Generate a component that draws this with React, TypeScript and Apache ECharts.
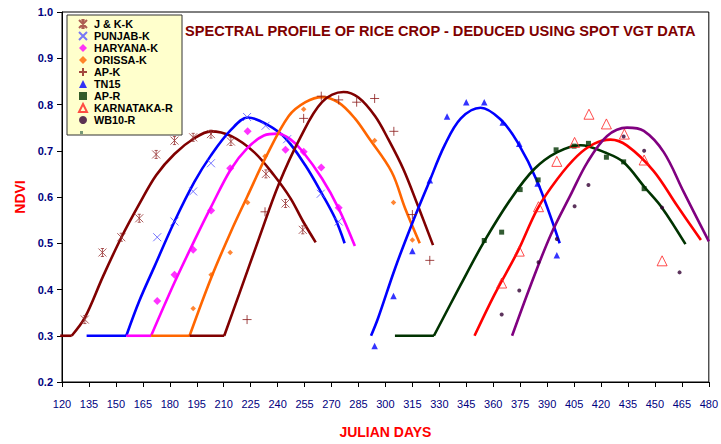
import React, { useEffect, useRef } from "react";
import * as echarts from "echarts";

const TITLE = "SPECTRAL PROFILE OF RICE CROP - DEDUCED USING SPOT VGT DATA";
const X_NAME = "JULIAN DAYS";
const Y_NAME = "NDVI";
const X_MIN = 120;
const X_MAX = 480;
const X_STEP = 15;
const Y_MIN = 0.2;
const Y_MAX = 1.0;
const Y_STEP = 0.1;

const names = ["J & K-K", "PUNJAB-K", "HARYANA-K", "ORISSA-K", "AP-K", "TN15", "AP-R", "KARNATAKA-R", "WB10-R"];

// observed points [julian day, NDVI]
const jkPts = [[132.7, 0.335], [142.5, 0.48], [153, 0.513], [163, 0.554], [172.4, 0.692], [182.6, 0.722], [193, 0.729], [202.9, 0.736], [214, 0.72], [233.5, 0.65], [244.4, 0.586], [254, 0.529]];
const punjabPts = [[173, 0.513], [182.6, 0.547], [193, 0.612], [202.9, 0.673], [223, 0.773], [233.3, 0.754], [245.3, 0.725], [264, 0.607], [274, 0.547]];
const haryanaPts = [[173, 0.375], [182.6, 0.432], [193, 0.486], [203, 0.571], [213.6, 0.662], [223.3, 0.742], [244.4, 0.702], [254.5, 0.698], [264.3, 0.664], [274, 0.577]];
const orissaPts = [[193, 0.359], [203, 0.432], [213.6, 0.48], [223.3, 0.588], [233, 0.688], [254.5, 0.79], [294, 0.722], [304.5, 0.588], [315, 0.507]];
const apkPts = [[223, 0.335], [233, 0.568], [254.5, 0.77], [264.3, 0.818], [274, 0.81], [284, 0.805], [294, 0.813], [304.7, 0.742], [315, 0.562], [324.7, 0.463]];
const tn15Pts = [[294, 0.278], [304.5, 0.386], [315, 0.483], [324.7, 0.636], [334.3, 0.774], [345, 0.805], [355, 0.805], [365.3, 0.761], [374.5, 0.715], [384.7, 0.629], [395.4, 0.474]];
const aprPts = [[355, 0.506], [364.7, 0.524], [375, 0.616], [385, 0.637], [395, 0.702], [405, 0.71], [413, 0.716], [423, 0.686], [432.6, 0.676], [444, 0.618]];
const karnatakaPts = [[364.7, 0.414], [374.5, 0.483], [385.2, 0.579], [395.4, 0.677], [405.3, 0.718], [413.3, 0.779], [423, 0.758], [433, 0.736], [444, 0.68], [454, 0.462]];
const wb10Pts = [[364.7, 0.346], [374.5, 0.398], [385.2, 0.459], [395.4, 0.509], [405.3, 0.58], [413, 0.626], [432.6, 0.731], [444, 0.7], [454, 0.577], [463.7, 0.437]];

// fitted profiles: flat base + curve
const jkFlat = [[119, 0.3], [125.4, 0.3]];
const jkFit = [[125.4, 0.3], [132.7, 0.339], [142.9, 0.429], [153.1, 0.513], [163.2, 0.586], [172.4, 0.647], [182.6, 0.693], [193.6, 0.727], [202.9, 0.742], [214, 0.732], [226.9, 0.697], [238, 0.647], [247.2, 0.597], [254.2, 0.547], [261.2, 0.502]];
const punjabFlat = [[133.7, 0.3], [155.8, 0.3]];
const punjabFit = [[155.8, 0.3], [163, 0.375], [171.5, 0.45], [182.6, 0.547], [193.6, 0.632], [202.9, 0.69], [214, 0.745], [223.5, 0.772], [234, 0.757], [244.4, 0.727], [255.5, 0.668], [264.7, 0.607], [272, 0.554], [277.3, 0.5]];
const haryanaFlat = [[155.8, 0.3], [169.6, 0.3]];
const haryanaFit = [[169.6, 0.3], [182.6, 0.415], [193.6, 0.505], [202.9, 0.578], [214, 0.66], [223, 0.705], [232.4, 0.733], [240, 0.737], [247, 0.725], [253.6, 0.7], [264.7, 0.64], [274, 0.575], [283, 0.494]];
const orissaFlat = [[169.6, 0.3], [191, 0.3]];
const orissaFit = [[191, 0.3], [203, 0.425], [214, 0.525], [223, 0.6], [233.3, 0.685], [246.2, 0.775], [255.5, 0.805], [264.7, 0.816], [274, 0.804], [283, 0.77], [290.5, 0.729], [303.5, 0.654], [311, 0.575], [319.1, 0.5]];
const apkFlat = [[191, 0.3], [210.3, 0.3]];
const apkFit = [[210.3, 0.3], [218.6, 0.39], [229.6, 0.51], [240.7, 0.628], [252.7, 0.729], [264.7, 0.805], [276.7, 0.827], [285, 0.815], [294.2, 0.775], [301.6, 0.725], [310, 0.66], [318, 0.582], [326.5, 0.496]];
const tn15Fit = [[292, 0.3], [296, 0.339], [305.3, 0.445], [314.5, 0.539], [323.8, 0.627], [333, 0.712], [342, 0.77], [353, 0.793], [364, 0.768], [373.6, 0.718], [384.7, 0.632], [397, 0.5]];
const aprFlat = [[305.3, 0.3], [327, 0.3]];
const aprFit = [[327, 0.3], [342, 0.411], [355, 0.504], [370, 0.597], [383, 0.661], [395.7, 0.697], [408.7, 0.712], [423, 0.695], [432.6, 0.675], [444.5, 0.62], [453.9, 0.577], [467, 0.498]];
const karnatakaFit = [[349.6, 0.3], [360.7, 0.389], [373.6, 0.482], [384.7, 0.575], [395.7, 0.639], [406.8, 0.689], [416, 0.715], [425.3, 0.724], [434.5, 0.711], [449.3, 0.656], [462.2, 0.582], [475.6, 0.507]];
const wb10Fit = [[370.5, 0.3], [381, 0.411], [392, 0.518], [403, 0.604], [412.4, 0.675], [423.4, 0.732], [434.5, 0.75], [443.8, 0.743], [454.9, 0.697], [466, 0.611], [480, 0.504]];

const STAR = "path://M0,0L10,10M10,0L0,10M5,0L5,10M3,0L7,0M3,10L7,10";
const CROSS = "path://M0,0L10,10M10,0L0,10";
const PLUS = "path://M5,0L5,10M0,5L10,5";

const FONT = "Liberation Sans, Arial, sans-serif";

function strokeScatter(name: string, data: number[][], symbol: string, size: number, color: string) {
  return {
    name,
    type: "scatter",
    data,
    symbol,
    symbolSize: size,
    z: 4,
    itemStyle: { color: "rgba(0,0,0,0)", borderColor: color, borderWidth: 1 },
  };
}
function fillScatter(name: string, data: number[][], symbol: string, size: number, color: string) {
  return {
    name,
    type: "scatter",
    data,
    symbol,
    symbolSize: size,
    z: 4,
    itemStyle: { color },
  };
}
function curve(id: string, data: number[][], color: string, smooth: boolean) {
  return {
    name: id,
    type: "line",
    data,
    smooth: smooth ? 0.35 : false,
    showSymbol: false,
    clip: false,
    z: 3,
    lineStyle: { color, width: 2.6 },
    itemStyle: { color },
  };
}

export default function App() {
  const ref = useRef<HTMLDivElement>(null);
  useEffect(() => {
    if (!ref.current) return;
    const chart = echarts.init(ref.current, undefined, { renderer: "svg" });
    const series: any[] = [
      curve("jkFlat", jkFlat, "#800000", false),
      curve("jkFit", jkFit, "#800000", true),
      curve("punjabFlat", punjabFlat, "#0000FF", false),
      curve("punjabFit", punjabFit, "#0000FF", true),
      curve("haryanaFlat", haryanaFlat, "#FF00FF", false),
      curve("haryanaFit", haryanaFit, "#FF00FF", true),
      curve("orissaFlat", orissaFlat, "#FF6600", false),
      curve("orissaFit", orissaFit, "#FF6600", true),
      curve("apkFlat", apkFlat, "#800000", false),
      curve("apkFit", apkFit, "#800000", true),
      curve("tn15Fit", tn15Fit, "#0000FF", true),
      curve("aprFlat", aprFlat, "#003300", false),
      curve("aprFit", aprFit, "#003300", true),
      curve("karnatakaFit", karnatakaFit, "#FF0000", true),
      curve("wb10Fit", wb10Fit, "#800080", true),
      strokeScatter(names[0], jkPts, STAR, 8, "#993333"),
      strokeScatter(names[1], punjabPts, CROSS, 8, "#5555FF"),
      fillScatter(names[2], haryanaPts, "diamond", 8, "#FF00FF"),
      fillScatter(names[3], orissaPts, "diamond", 5.5, "#FF6600"),
      strokeScatter(names[4], apkPts, PLUS, 9, "#8B1A1A"),
      fillScatter(names[5], tn15Pts, "triangle", 6.5, "#0000FF"),
      fillScatter(names[6], aprPts, "rect", 5, "#003300"),
      {
        name: names[7],
        type: "scatter",
        data: karnatakaPts,
        symbol: "triangle",
        symbolSize: 10,
        z: 4,
        itemStyle: { color: "rgba(255,255,255,0)", borderColor: "#FF2020", borderWidth: 1 },
      },
      fillScatter(names[8], wb10Pts, "circle", 4, "#330033"),
    ];
    chart.setOption({
      animation: false,
      backgroundColor: "#FFFFFF",
      grid: { left: 62, right: 9, top: 12, bottom: 52, show: true, borderColor: "#000", borderWidth: 1, backgroundColor: "transparent" },
      xAxis: {
        type: "value",
        min: X_MIN,
        max: X_MAX,
        interval: X_STEP,
        name: X_NAME,
        nameLocation: "middle",
        nameGap: 43,
        nameTextStyle: { color: "#FF0000", fontWeight: "bold", fontSize: 14, fontFamily: FONT },
        axisLine: { lineStyle: { color: "#000", width: 1 } },
        axisTick: { show: true, length: 5, inside: false, lineStyle: { color: "#000" } },
        axisLabel: { color: "#000080", fontSize: 11, margin: 16, fontFamily: FONT },
        splitLine: { show: false },
      },
      yAxis: {
        type: "value",
        min: Y_MIN,
        max: Y_MAX,
        interval: Y_STEP,
        name: Y_NAME,
        nameLocation: "middle",
        nameGap: 30,
        nameTextStyle: { color: "#FF0000", fontWeight: "bold", fontSize: 14, fontFamily: FONT },
        axisLine: { show: true, lineStyle: { color: "#000", width: 1 } },
        axisTick: { show: true, length: 5, lineStyle: { color: "#000" } },
        axisLabel: { color: "#000080", fontSize: 11, fontWeight: "bold", margin: 9, fontFamily: FONT, formatter: (v: number) => v.toFixed(1) },
        splitLine: { show: false },
      },
      legend: {
        data: names,
        orient: "vertical",
        left: 78,
        top: 18,
        padding: 0,
        itemGap: 0,
        itemWidth: 8,
        itemHeight: 8,
        selectedMode: false,
        z: 6,
        textStyle: { color: "#000", fontWeight: "bold", fontSize: 10.8, fontFamily: FONT, lineHeight: 12, padding: [0, 0, 0, 2] },
      },
      graphic: [
        { type: "rect", z: 5, shape: { x: 67, y: 15, width: 115, height: 120 }, style: { fill: "#FFFFCC", stroke: "#333", lineWidth: 1 } },
        { type: "rect", z: 6, shape: { x: 80, y: 131, width: 3, height: 3 }, style: { fill: "#779977" } },
        {
          type: "text",
          z: 6,
          left: 185,
          top: 23,
          style: { text: TITLE, fill: "#800000", font: `bold 14.6px ${FONT}` },
        },
      ],
      series,
    });
    return () => chart.dispose();
  }, []);
  return <div ref={ref} style={{ position: "fixed", left: 0, top: 0, width: 721, height: 444 }} />;
}
